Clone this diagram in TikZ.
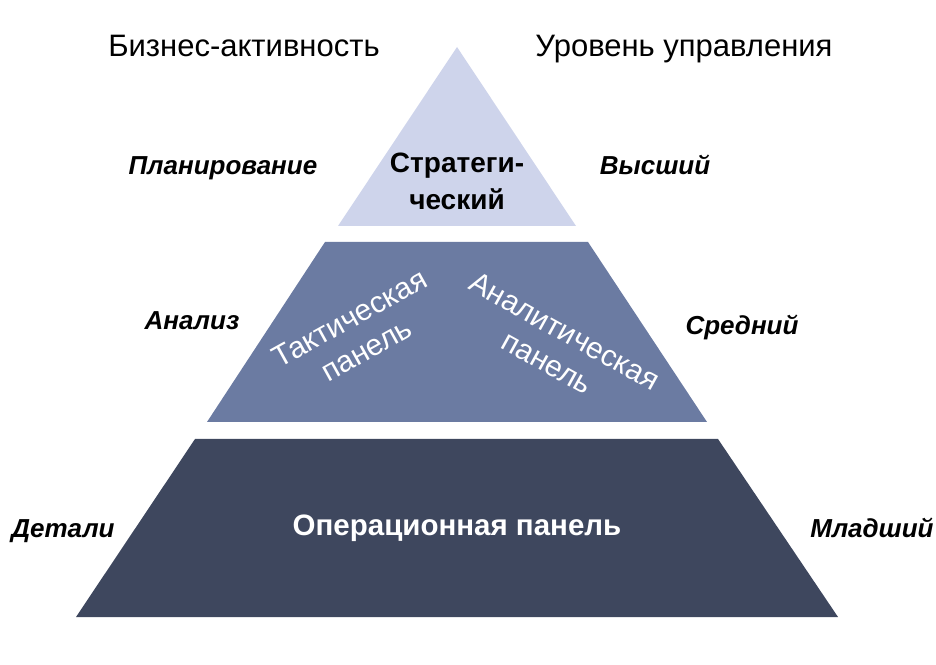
\documentclass[tikz,border=0pt]{standalone}
\usepackage{fontspec}
\setmainfont{Liberation Sans}
\usetikzlibrary{positioning}

\definecolor{tierTop}{HTML}{CED4EB}
\definecolor{tierMid}{HTML}{6B7BA2}
\definecolor{tierLow}{HTML}{3E475E}

\begin{document}
\begin{tikzpicture}[x=1pt, y=1pt]
  \useasboundingbox (0,0) rectangle (936,664);

  \tikzset{head_label/.style={anchor=base, font=\fontsize{31}{36}\selectfont}}
  \tikzset{side_label/.style={anchor=base, font=\fontsize{26}{30}\selectfont\bfseries\itshape}}
  \tikzset{tier_label/.style={align=center, font=\fontsize{28}{37}\selectfont\bfseries}}
  \tikzset{slant_label/.style={align=center, text=white, font=\fontsize{30}{36}\selectfont}}

  % pyramid tiers
  \fill[tierTop] (457,617) -- (576,438) -- (338,438) -- cycle;
  \fill[tierMid] (325,422) -- (588,422) -- (707,242) -- (207,242) -- cycle;
  \fill[tierLow] (195,225) -- (718,225) -- (838,47) -- (76,47) -- cycle;

  % column heads
  \node[head_label] (activity) at (244,607) {Бизнес-активность};
  \node[head_label] (level) at (684,607) {Уровень управления};

  % labels inside the tiers
  \node[tier_label, anchor=base] (strategic) at (457,454) {Стратеги-\\ческий};
  \node[slant_label, rotate=29] (tactical) at (358,330) {Тактическая\\панель};
  \node[slant_label, rotate=-29] (analytic) at (556,317) {Аналитическая\\панель};
  \node[tier_label, text=white, anchor=base, font=\fontsize{29.5}{36}\selectfont\bfseries] (operational) at (457,129) {Операционная панель};

  % activity side
  \node[side_label] (planning) at (223,489) {Планирование};
  \node[side_label] (analysis) at (192,334) {Анализ};
  \node[side_label] (details) at (63,127) {Детали};

  % level side
  \node[side_label] (high) at (655,489) {Высший};
  \node[side_label] (middle) at (742,329) {Средний};
  \node[side_label] (junior) at (872,127) {Младший};
\end{tikzpicture}
\end{document}
